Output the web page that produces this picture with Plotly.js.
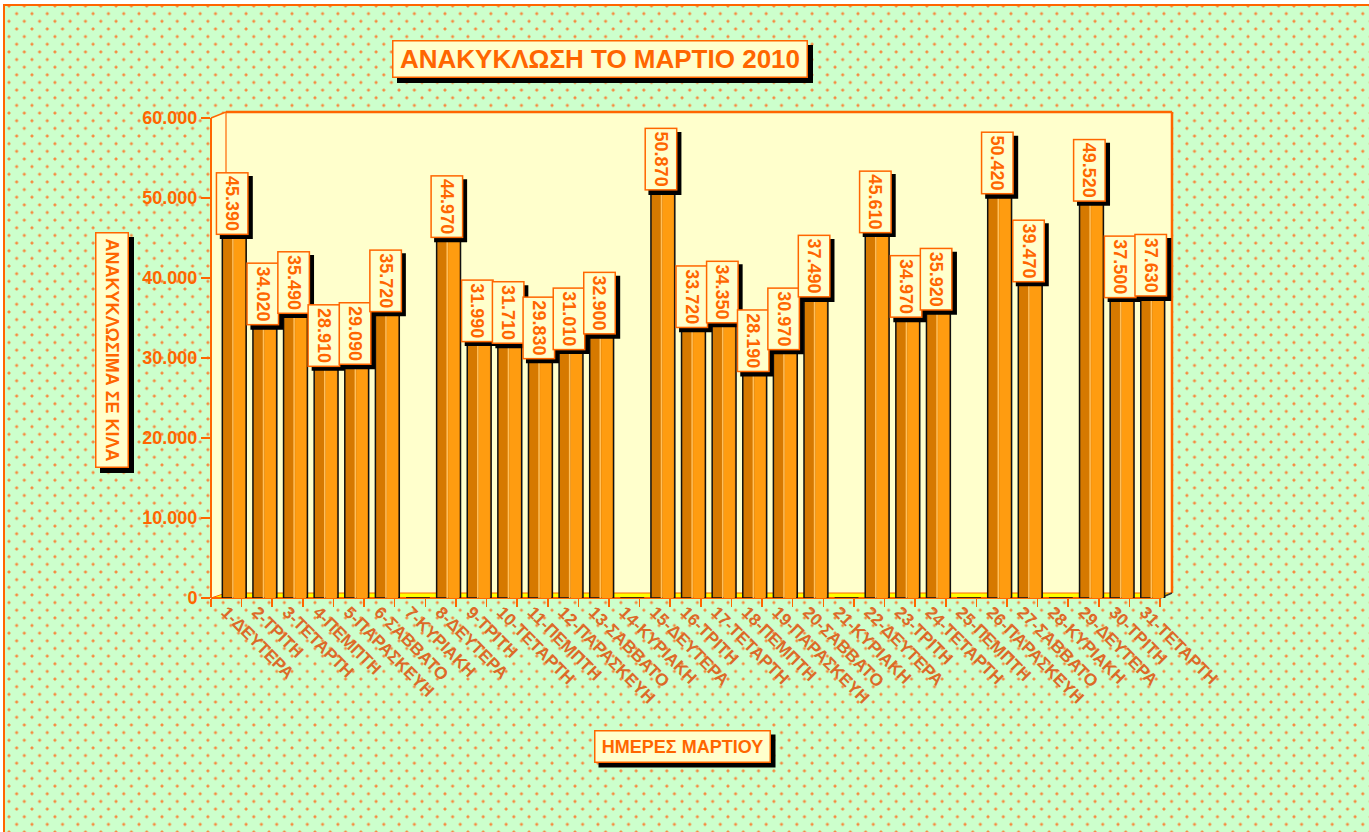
<!DOCTYPE html>
<html>
<head>
<meta charset="utf-8">
<script src="https://cdn.plot.ly/plotly-3.0.1.min.js"></script>
<style>
  html, body { margin:0; padding:0; background:#ffffff; overflow:hidden; width:1369px; height:832px; }
  #bg {
    position:absolute; left:3px; top:4px; width:1420px; height:900px;
    border-left:2px solid #ff6600; border-top:2px solid #ff6600;
    background-color:#ccffcc;
    background-image:
      radial-gradient(circle, #f5893f 1.1px, rgba(245,137,63,0.35) 1.6px, transparent 2px),
      radial-gradient(circle, #f5893f 1.1px, rgba(245,137,63,0.35) 1.6px, transparent 2px);
    background-size: 15.3px 15.3px, 15.3px 15.3px;
    background-position: -3.65px -7.65px, 4.0px 0.0px;
  }
  #chart { position:absolute; left:0; top:0; width:1369px; height:832px; }
</style>
</head>
<body>
<div id="bg"></div>
<div id="chart"></div>
<script>
// ---- data ----
const days = ['1-ΔΕΥΤΕΡΑ','2-ΤΡΙΤΗ','3-ΤΕΤΑΡΤΗ','4-ΠΕΜΠΤΗ','5-ΠΑΡΑΣΚΕΥΗ','6-ΣΑΒΒΑΤΟ','7-ΚΥΡΙΑΚΗ',
  '8-ΔΕΥΤΕΡΑ','9-ΤΡΙΤΗ','10-ΤΕΤΑΡΤΗ','11-ΠΕΜΠΤΗ','12-ΠΑΡΑΣΚΕΥΗ','13-ΣΑΒΒΑΤΟ','14-ΚΥΡΙΑΚΗ',
  '15-ΔΕΥΤΕΡΑ','16-ΤΡΙΤΗ','17-ΤΕΤΑΡΤΗ','18-ΠΕΜΠΤΗ','19-ΠΑΡΑΣΚΕΥΗ','20-ΣΑΒΒΑΤΟ','21-ΚΥΡΙΑΚΗ',
  '22-ΔΕΥΤΕΡΑ','23-ΤΡΙΤΗ','24-ΤΕΤΑΡΤΗ','25-ΠΕΜΠΤΗ','26-ΠΑΡΑΣΚΕΥΗ','27-ΣΑΒΒΑΤΟ','28-ΚΥΡΙΑΚΗ',
  '29-ΔΕΥΤΕΡΑ','30-ΤΡΙΤΗ','31-ΤΕΤΑΡΤΗ'];
const kilos = [45390, 34020, 35490, 28910, 29090, 35720, 0,
  44970, 31990, 31710, 29830, 31010, 32900, 0,
  50870, 33720, 34350, 28190, 30970, 37490, 0,
  45610, 34970, 35920, 0, 50420, 39470, 0,
  49520, 37500, 37630];
const yTicks = [0, 10000, 20000, 30000, 40000, 50000, 60000];
const chartTitle = 'ΑΝΑΚΥΚΛΩΣΗ ΤΟ ΜΑΡΤΙΟ 2010';
const yTitle = 'ΑΝΑΚΥΚΛΩΣΙΜΑ ΣΕ ΚΙΛΑ';
const xTitle = 'ΗΜΕΡΕΣ ΜΑΡΤΙΟΥ';

// ---- styling helpers ----
const ORANGE = '#ff6600';
const FONT = 'Liberation Sans, Arial, sans-serif';
const L = 211, R = 1172, T = 112, B = 598;
const PX = x => (x - L) / (R - L);
const PY = y => (B - y) / (B - T);
function fmt(v) { return Math.floor(v / 1000) + '.' + String(v % 1000).padStart(3, '0'); }
function poly(pts) { return 'M ' + pts.map(p => PX(p[0]) + ',' + PY(p[1])).join(' L ') + ' Z'; }
function seg(x0, y0, x1, y1, w, c) {
  return {type:'line', xref:'paper', yref:'paper', x0:PX(x0), y0:PY(y0), x1:PX(x1), y1:PY(y1),
          line:{color:c || ORANGE, width:w}, layer:'below'};
}

const traces = [
  {type:'bar', x:days, y:kilos, width:0.78, offset:-0.13,
   marker:{color:'#d67900', line:{color:'#111111', width:1.5}}, hoverinfo:'skip'},
  {type:'bar', x:days, y:kilos, width:0.36, offset:0.25,
   marker:{color:'#ff9c10', line:{width:0}}, hoverinfo:'skip'},
  {type:'bar', x:days, y:kilos, width:0.05, offset:0.19,
   marker:{color:'#ffbf5a', line:{width:0}}, hoverinfo:'skip'}
];

const shapes = [
  {type:'path', xref:'paper', yref:'paper', layer:'below',
   path: poly([[211,598],[211,118],[226,112],[1172,112],[1172,593],[1160,598]]),
   fillcolor:'#ffffcc', line:{width:0}},
  {type:'path', xref:'paper', yref:'paper', layer:'below',
   path: poly([[211,598],[226,593],[1172,593],[1160,598]]),
   fillcolor:'#ffff00', line:{color:ORANGE, width:1}},
  seg(226,112,1172,112,2.5),
  seg(1172,112,1172,593,2.5),
  seg(211,118,226,112,1.5),
  seg(226,112,226,593,1.2),
  seg(211,118,211,598,2),
  seg(211,598,1160,598,2),
  seg(1160,598,1172,593,1.5,'#333333')
];

const annotations = [];
// data labels (fixed box 33 x 63 px after rotation) with a black drop shadow drawn as a shape
kilos.forEach((v, i) => {
  if (!v) return;
  shapes.push({type:'rect', layer:'above', xref:'x', yref:'y',
    xsizemode:'pixel', xanchor:days[i], x0:-6.5, x1:26.5,
    ysizemode:'pixel', yanchor:v, y0:-4, y1:59,
    fillcolor:'#000000', line:{width:0}});
  annotations.push({x:days[i], y:v, xref:'x', yref:'y', text:fmt(v), textangle:90,
    showarrow:false, xanchor:'center', yanchor:'bottom', xshift:6,
    width:56, height:26, borderpad:2, borderwidth:1.5,
    font:{family:FONT, size:18, color:ORANGE, weight:'bold'},
    bgcolor:'#ffffcc', bordercolor:ORANGE});
});

function boxed(text, cx, cy, size, angle, w, h) {
  const ow = w + 7, oh = h + 7;               // outer box (pad 2 + border 1.5 each side)
  const bw = angle ? oh : ow, bh = angle ? ow : oh;
  shapes.push({type:'rect', xref:'paper', yref:'paper', layer:'above',
    x0:PX(cx - bw/2 + 5), x1:PX(cx + bw/2 + 5), y0:PY(cy + bh/2 + 5), y1:PY(cy - bh/2 + 5),
    fillcolor:'#000000', line:{width:0}});
  annotations.push({text:text, xref:'paper', yref:'paper', x:PX(cx), y:PY(cy), showarrow:false,
    xanchor:'center', yanchor:'middle', textangle:angle, width:w, height:h,
    borderpad:2, borderwidth:1.5,
    font:{family:FONT, size:size, color:ORANGE, weight:'bold'},
    bgcolor:'#ffffcc', bordercolor:ORANGE});
}
boxed(chartTitle, 600, 59, 26, 0, 409, 31);
boxed(yTitle, 112, 350, 18, 90, 229, 27);
boxed(xTitle, 682, 746, 18, 0, 170, 26);

const layout = {
  width:1369, height:832,
  margin:{l:L, r:1369-R, t:T, b:832-B, pad:0},
  paper_bgcolor:'rgba(0,0,0,0)', plot_bgcolor:'rgba(0,0,0,0)',
  separators:',.',
  showlegend:false, barmode:'overlay', hovermode:false,
  font:{family:FONT, color:ORANGE},
  xaxis:{type:'category', range:[-0.5, 30.89], tickson:'boundaries', ticks:'outside', ticklen:8,
    tickcolor:ORANGE, tickwidth:1.5, showgrid:false, showline:false, zeroline:false,
    tickangle:45, tickfont:{family:FONT, size:17, color:'#dc6a28', weight:'bold'}, fixedrange:true},
  yaxis:{range:[0, 60750], tickvals:yTicks, tickformat:',d', ticks:'outside', ticklen:9,
    tickcolor:ORANGE, tickwidth:1.5, showgrid:false, showline:false, zeroline:false,
    tickfont:{family:FONT, size:18, color:ORANGE, weight:'bold'}, fixedrange:true},
  shapes:shapes,
  annotations:annotations
};

Plotly.newPlot('chart', traces, layout, {displayModeBar:false, staticPlot:true});
</script>
</body>
</html>
